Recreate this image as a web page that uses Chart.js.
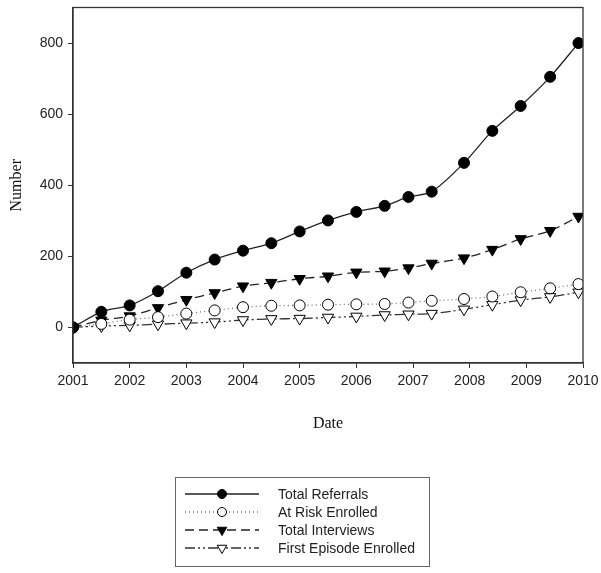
<!DOCTYPE html>
<html>
<head>
<meta charset="utf-8">
<script src="https://cdn.jsdelivr.net/npm/chart.js@4"></script>
<style>
    html, body { margin: 0; padding: 0; background: #fff; }
    #wrap { width: 601px; height: 573px; }
</style>
</head>
<body>
<div id="wrap"><canvas id="chart-referrals"></canvas></div>
<script>
// data
const dates = [2001, 2001.5, 2002, 2002.5, 2003, 2003.5, 2004, 2004.5, 2005, 2005.5, 2006, 2006.5, 2006.92, 2007.33, 2007.9, 2008.4, 2008.9, 2009.42, 2009.92];
const totalReferrals = [0, 44, 62, 102, 154, 191, 216, 237, 270, 301, 325, 342, 367, 382, 463, 553, 623, 705, 800];
const atRiskEnrolled = [0, 10, 22, 29, 39, 48, 57, 61, 62, 64, 65, 66, 70, 75, 80, 87, 99, 110, 122];
const totalInterviews = [0, 20, 32, 55, 78, 97, 116, 126, 137, 144, 155, 158, 167, 180, 195, 219, 249, 272, 312];
const firstEpisode = [0, 4, 6, 9, 12, 15, 21, 24, 25, 28, 31, 35, 37, 39, 51, 64, 77, 86, 99];
const yTicks = [0, 200, 400, 600, 800];

const sans = "'Liberation Sans', Arial, sans-serif";
const serif = "'Liberation Serif', 'Times New Roman', serif";

function pts(values) {
    return values.map((v, i) => ({x: dates[i], y: v}));
}

const series = [
    {label: 'Total Referrals', data: pts(totalReferrals), dash: [], lineColor: '#222', style: 'circle', fill: '#000', rot: 0, radius: 5.5},
    {label: 'At Risk Enrolled', data: pts(atRiskEnrolled), dash: [1, 3], lineColor: '#777', style: 'circle', fill: '#fff', rot: 0, radius: 5.5},
    {label: 'Total Interviews', data: pts(totalInterviews), dash: [9, 5], lineColor: '#222', style: 'triangle', fill: '#000', rot: 180, radius: 6.5},
    {label: 'First Episode Enrolled', data: pts(firstEpisode), dash: [10, 3, 2, 3, 2, 3], lineColor: '#333', style: 'triangle', fill: '#fff', rot: 180, radius: 6.5},
];

// frame round the plot area + legend box under the axes
const framePlugin = {
    id: 'frame',
    afterDraw(chart) {
        const ctx = chart.ctx;
        const a = chart.chartArea;
        ctx.save();
        ctx.strokeStyle = '#333';
        ctx.lineWidth = 1.3;
        ctx.strokeRect(a.left, a.top, a.right - a.left, a.bottom - a.top);

        // legend
        ctx.lineWidth = 1;
        ctx.strokeStyle = '#666';
        ctx.strokeRect(175.5, 477.5, 254, 89);
        series.forEach((s, i) => {
            const y = 494 + i * 18;
            ctx.beginPath();
            ctx.setLineDash(s.dash);
            ctx.strokeStyle = s.lineColor;
            ctx.lineWidth = 1.3;
            ctx.moveTo(185, y);
            ctx.lineTo(259, y);
            ctx.stroke();
            ctx.setLineDash([]);
            ctx.fillStyle = s.fill;
            ctx.strokeStyle = '#000';
            ctx.lineWidth = 1;
            Chart.helpers.drawPoint(ctx, {pointStyle: s.style, rotation: s.rot, radius: s.radius - 1, borderWidth: 1}, 222, y);
            ctx.fillStyle = '#222';
            ctx.font = '14px ' + sans;
            ctx.textBaseline = 'middle';
            ctx.fillText(s.label, 278, y + 1);
        });
        ctx.restore();
    }
};

new Chart(document.getElementById('chart-referrals').getContext('2d'), {
    type: 'line',
    data: {
        datasets: series.map(s => ({
            label: s.label,
            data: s.data,
            borderColor: s.lineColor,
            borderWidth: 1.3,
            borderDash: s.dash,
            tension: 0.3,
            pointStyle: s.style,
            pointRotation: s.rot,
            pointRadius: s.radius,
            pointBackgroundColor: s.fill,
            pointBorderColor: '#000',
            pointBorderWidth: 1,
        }))
    },
    options: {
        responsive: true,
        maintainAspectRatio: false,
        animation: false,
        layout: {padding: {top: 7, right: 18, bottom: 140, left: 0}},
        plugins: {
            legend: {display: false},
            tooltip: {enabled: false},
        },
        scales: {
            x: {
                type: 'linear',
                min: 2001,
                max: 2010,
                afterFit: (scale) => {
                    scale.height = 70;
                    scale.paddingLeft = 0;
                    scale.paddingRight = 0;
                },
                ticks: {
                    stepSize: 1,
                    callback: (v) => String(v),
                    color: '#222',
                    font: {family: sans, size: 14},
                    padding: 5,
                    maxRotation: 0,
                },
                grid: {drawOnChartArea: false, drawTicks: true, tickLength: 5, color: '#333'},
                border: {display: true, color: '#333', width: 1.3},
                title: {display: true, text: 'Date', color: '#111', font: {family: serif, size: 16}, padding: {top: 8, bottom: 0}},
            },
            y: {
                min: -100,
                max: 900,
                afterFit: (scale) => {
                    scale.width = 73;
                    scale.paddingTop = 0;
                    scale.paddingBottom = 0;
                },
                afterBuildTicks: (scale) => { scale.ticks = yTicks.map(v => ({value: v})); },
                ticks: {
                    color: '#222',
                    font: {family: sans, size: 14},
                    padding: 5,
                },
                grid: {drawOnChartArea: false, drawTicks: true, tickLength: 5, color: '#333'},
                border: {display: true, color: '#333', width: 1.3},
                title: {display: true, text: 'Number', color: '#111', font: {family: serif, size: 16}, padding: {top: 7, bottom: 0}},
            }
        }
    },
    plugins: [framePlugin],
});
</script>
</body>
</html>
